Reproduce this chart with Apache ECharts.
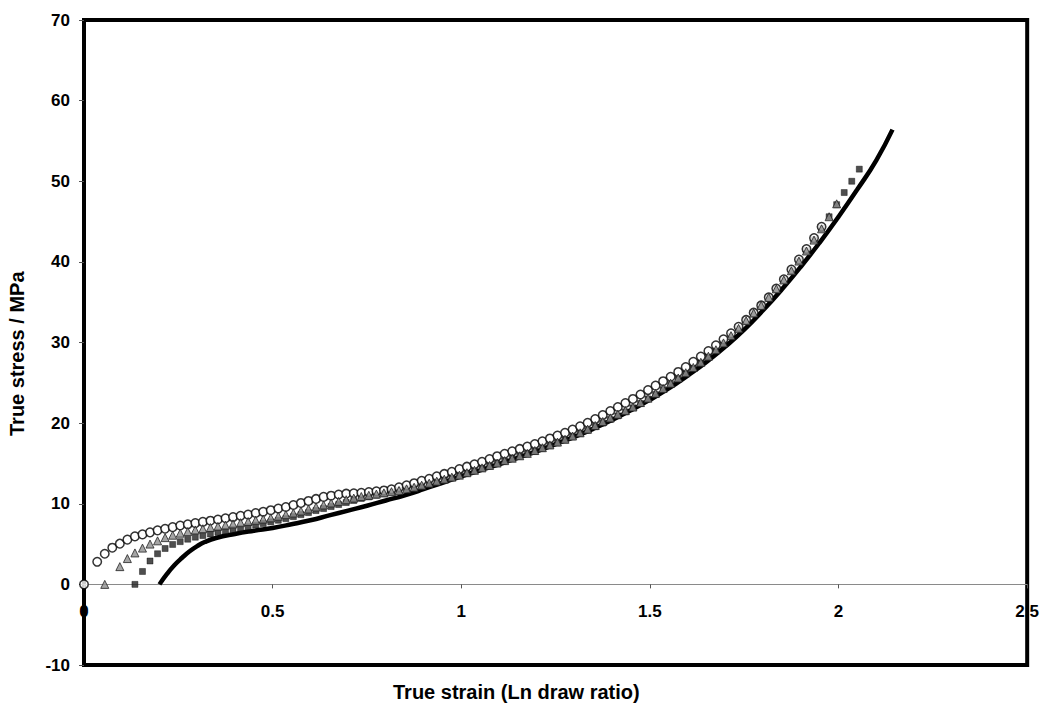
<!DOCTYPE html>
<html>
<head>
<meta charset="utf-8">
<script src="https://cdn.jsdelivr.net/npm/echarts@6/dist/echarts.min.js"></script>
<style>
html,body{margin:0;padding:0;background:#fff;}
#chart{width:1042px;height:711px;}
</style>
</head>
<body>
<div id="chart"></div>
<script>
// Shared strain grid (true strain) for the marker series
const strain = [0, 0.035, 0.055, 0.075, 0.095, 0.115, 0.135, 0.155, 0.175, 0.195, 0.215, 0.235, 0.255, 0.275, 0.295, 0.315, 0.335, 0.355, 0.375, 0.395, 0.415, 0.435, 0.455, 0.475, 0.495, 0.515, 0.535, 0.555, 0.575, 0.595, 0.615, 0.635, 0.655, 0.675, 0.695, 0.715, 0.735, 0.755, 0.775, 0.795, 0.815, 0.835, 0.855, 0.875, 0.895, 0.915, 0.935, 0.955, 0.975, 0.995, 1.015, 1.035, 1.055, 1.075, 1.095, 1.115, 1.135, 1.155, 1.175, 1.195, 1.215, 1.235, 1.255, 1.275, 1.295, 1.315, 1.335, 1.355, 1.375, 1.395, 1.415, 1.435, 1.455, 1.475, 1.495, 1.515, 1.535, 1.555, 1.575, 1.595, 1.615, 1.635, 1.655, 1.675, 1.695, 1.715, 1.735, 1.755, 1.775, 1.795, 1.815, 1.835, 1.855, 1.875, 1.895, 1.915, 1.935, 1.955, 1.975, 1.995, 2.015, 2.035, 2.055];

// Open circles (true stress, MPa)
const circleStress = [0,
  2.8, 3.8, 4.55, 5.05, 5.55, 5.95, 6.2, 6.45, 6.7, 6.9,
  7.1, 7.3, 7.45, 7.6, 7.75, 7.9, 8.05, 8.2, 8.35, 8.5,
  8.65, 8.85, 9.0, 9.2, 9.4, 9.6, 9.85, 10.1, 10.35, 10.6,
  10.85, 11.0, 11.15, 11.25, 11.3, 11.35, 11.45, 11.55, 11.65, 11.8,
  12.05, 12.3, 12.55, 12.85, 13.1, 13.4, 13.7, 13.95, 14.3, 14.6,
  14.9, 15.2, 15.55, 15.9, 16.2, 16.5, 16.8, 17.1, 17.4, 17.75,
  18.1, 18.45, 18.8, 19.2, 19.6, 20.05, 20.5, 21.0, 21.5, 22.0,
  22.5, 23.0, 23.55, 24.1, 24.65, 25.2, 25.75, 26.35, 26.95, 27.6,
  28.25, 28.95, 29.65, 30.4, 31.15, 31.95, 32.8, 33.7, 34.6, 35.6,
  36.7, 37.85, 39.05, 40.3, 41.6, 42.95, 44.35,
  null, null, null, null, null];

// Grey triangles
const triangleStress = [null,
  null, 0, null, 2.2, 3.2, 3.9, 4.5, 5.0, 5.4, 5.8,
  6.1, 6.35, 6.55, 6.75, 6.9, 7.05, 7.2, 7.35, 7.5, 7.65,
  7.8, 7.95, 8.1, 8.25, 8.45, 8.65, 8.85, 9.1, 9.35, 9.6,
  9.85, 10.1, 10.3, 10.5, 10.7, 10.9, 11.05, 11.2, 11.35, 11.5,
  11.65, 11.85, 12.05, 12.3, 12.55, 12.8, 13.05, 13.3, 13.55, 13.85,
  14.15, 14.45, 14.75, 15.05, 15.35, 15.65, 15.95, 16.25, 16.6, 16.95,
  17.3, 17.65, 18.0, 18.4, 18.8, 19.25, 19.7, 20.2, 20.65, 21.1,
  21.55, 22.0, 22.55, 23.1, 23.7, 24.3, 24.95, 25.6, 26.25, 26.9,
  27.55, 28.3, 29.1, 29.95, 30.85, 31.75, 32.7, 33.65, 34.6, 35.6,
  36.65, 37.75, 38.9, 40.1, 41.35, 42.7, 44.1, 45.6, 47.2,
  null, null, null];

// Dark squares
const squareStress = [null,
  null, null, null, null, null, 0, 1.6, 2.9, 3.8, 4.45,
  4.95, 5.3, 5.6, 5.85, 6.05, 6.25, 6.45, 6.6, 6.8, 6.95,
  7.15, 7.35, 7.55, 7.75, 7.95, 8.15, 8.4, 8.65, 8.9, 9.15,
  9.4, 9.65, 9.9, 10.15, 10.4, 10.65, 10.85, 11.05, 11.25, 11.45,
  11.65, 11.85, 12.05, 12.25, 12.5, 12.75, 13.0, 13.25, 13.5, 13.8,
  14.1, 14.4, 14.7, 15.0, 15.3, 15.6, 15.9, 16.2, 16.5, 16.85,
  17.2, 17.55, 17.9, 18.3, 18.7, 19.1, 19.55, 20.0, 20.45, 20.9,
  21.4, 21.9, 22.45, 23.0, 23.55, 24.15, 24.8, 25.45, 26.1, 26.8,
  27.5, 28.25, 29.05, 29.9, 30.8, 31.7, 32.65, 33.6, 34.6, 35.6,
  36.65, 37.75, 38.9, 40.1, 41.4, 42.75, 44.15, 45.6, 47.1, 48.6,
  50.0, 51.5];

// Solid model curve
const lineStrain = [0.20, 0.22, 0.24, 0.26, 0.28, 0.30, 0.32, 0.35, 0.40, 0.45, 0.50, 0.55, 0.60, 0.65, 0.70, 0.75, 0.80, 0.85, 0.90, 0.95, 1.00, 1.05, 1.10, 1.15, 1.20, 1.25, 1.30, 1.35, 1.40, 1.45, 1.50, 1.55, 1.60, 1.65, 1.70, 1.75, 1.80, 1.85, 1.90, 1.95, 2.00, 2.05, 2.10, 2.143];
const lineStress = [0, 1.3, 2.4, 3.3, 4.1, 4.75, 5.25, 5.75, 6.25, 6.65, 7.0, 7.45, 7.95, 8.55, 9.15, 9.75, 10.4, 11.05, 11.8, 12.6, 13.4, 14.15, 14.9, 15.7, 16.5, 17.4, 18.3, 19.3, 20.4, 21.6, 22.9, 24.3, 25.9, 27.6, 29.5, 31.6, 34.0, 36.6, 39.4, 42.4, 45.6, 49.0, 52.6, 56.4];

const xTicks = [0, 0.5, 1, 1.5, 2, 2.5];
const yTicks = [-10, 0, 10, 20, 30, 40, 50, 60, 70];

function pairs(xs, ys) {
  const out = [];
  for (let i = 0; i < xs.length; i++) {
    if (ys[i] !== null && ys[i] !== undefined) out.push([xs[i], ys[i]]);
  }
  return out;
}

const FONT = '"Liberation Sans", Arial, Helvetica, sans-serif';
const GRID = {left: 84, right: 13, top: 20, bottom: 46};
const chart = echarts.init(document.getElementById('chart'), null, {renderer: 'svg'});

// place the x axis (line, ticks and labels) on stress = 0
const plotH = 711 - GRID.top - GRID.bottom;
const zeroOffset = -plotH * (0 - yTicks[0]) / (yTicks[yTicks.length - 1] - yTicks[0]);

chart.setOption({
  animation: false,
  backgroundColor: '#ffffff',
  grid: Object.assign({
    show: true, borderColor: '#000', borderWidth: 4, backgroundColor: 'transparent'
  }, GRID),
  xAxis: {
    type: 'value', position: 'bottom', offset: zeroOffset,
    min: xTicks[0], max: xTicks[xTicks.length - 1], interval: 0.5,
    axisLine: {onZero: false, lineStyle: {color: '#8a8a8a', width: 1}},
    axisTick: {show: true, length: 4, lineStyle: {color: '#555'}},
    axisLabel: {
      margin: 19, color: '#000', fontFamily: FONT, fontSize: 17, fontWeight: 'bold',
      formatter: v => String(v)
    },
    splitLine: {show: false}
  },
  yAxis: {
    type: 'value',
    min: yTicks[0], max: yTicks[yTicks.length - 1], interval: 10,
    axisLine: {show: false},
    axisTick: {show: true, length: 5, lineStyle: {color: '#555'}},
    axisLabel: {margin: 14, color: '#000', fontFamily: FONT, fontSize: 17, fontWeight: 'bold'},
    splitLine: {show: false}
  },
  graphic: [
    {
      type: 'text', left: 393, top: 682,
      style: {text: 'True strain (Ln draw ratio)', font: 'bold 20px ' + FONT, fill: '#000'}
    },
    {
      type: 'text', x: 7, y: 436, rotation: Math.PI / 2,
      style: {text: 'True stress / MPa', font: 'bold 20px ' + FONT, fill: '#000', align: 'left', verticalAlign: 'top'}
    }
  ],
  series: [
    {
      type: 'line', data: pairs(lineStrain, lineStress), smooth: true, symbol: 'none',
      lineStyle: {color: '#000', width: 4.5}, z: 2
    },
    {
      type: 'scatter', data: pairs(strain, squareStress), symbol: 'rect', symbolSize: 6,
      itemStyle: {color: '#222', borderColor: '#000', borderWidth: 0.5}, z: 3
    },
    {
      type: 'scatter', data: pairs(strain, circleStress), symbol: 'circle', symbolSize: 8.5,
      itemStyle: {color: '#fff', borderColor: '#000', borderWidth: 1.5}, z: 4
    },
    {
      type: 'scatter', data: pairs(strain, triangleStress), symbol: 'triangle', symbolSize: 8,
      itemStyle: {color: '#8f8f8f', borderColor: '#222', borderWidth: 1}, z: 5
    }
  ]
});
</script>
</body>
</html>
